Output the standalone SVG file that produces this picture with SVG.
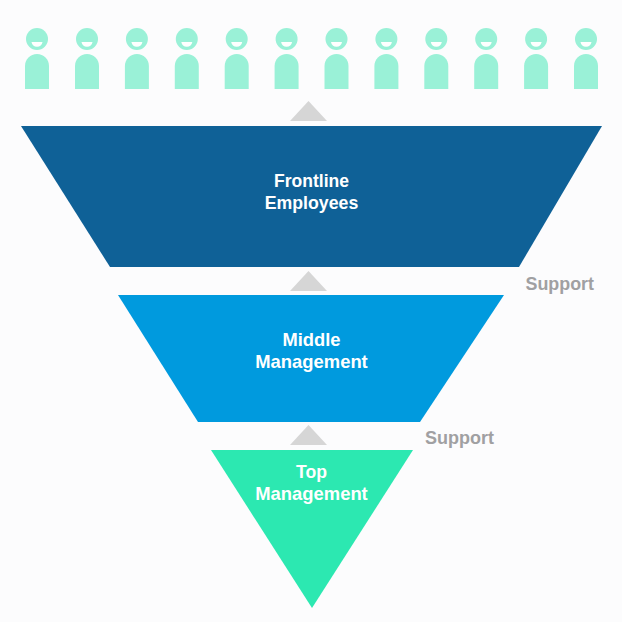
<svg xmlns="http://www.w3.org/2000/svg" xmlns:xlink="http://www.w3.org/1999/xlink" width="622" height="622" viewBox="0 0 622 622">
<style>
.t{font-family:"Liberation Sans",Arial,sans-serif;font-size:17.800px;font-weight:700;fill:#fff;text-anchor:middle}
.s{font-family:"Liberation Sans",Arial,sans-serif;font-size:17.800px;font-weight:700;fill:#a0a0a2}
.a{fill:#d6d6d6}
.p{fill:#9af1d7}
</style>
<defs>
<g id="person">
<circle class="p" cx="37" cy="39" r="11"/>
<path d="M31.500 42H42.500C42 45 40 46.800 37 46.800C34 46.800 32 45 31.500 42Z" fill="#fff"/>
<path class="p" d="M25 89V66C25 59.400 30.400 54 37 54C43.600 54 49 59.400 49 66V89Z"/>
</g>
</defs>
<rect width="622" height="622" fill="#fcfcfd"/>
<g id="people">
<use xlink:href="#person" href="#person" x="0"/>
<use xlink:href="#person" href="#person" x="50"/>
<use xlink:href="#person" href="#person" x="99.900"/>
<use xlink:href="#person" href="#person" x="149.800"/>
<use xlink:href="#person" href="#person" x="199.700"/>
<use xlink:href="#person" href="#person" x="249.600"/>
<use xlink:href="#person" href="#person" x="299.500"/>
<use xlink:href="#person" href="#person" x="349.400"/>
<use xlink:href="#person" href="#person" x="399.300"/>
<use xlink:href="#person" href="#person" x="449.200"/>
<use xlink:href="#person" href="#person" x="499.100"/>
<use xlink:href="#person" href="#person" x="549"/>
</g>
<g id="connectors">
<polygon class="a" points="290,121 308.500,101 327,121"/>
<polygon class="a" points="290,291 308.500,271 327,291"/>
<polygon class="a" points="290,445 308.500,425 327,445"/>
</g>
<g id="frontline">
<polygon points="21,126 602,126 519,267 110,267" fill="#0f6197"/>
<text class="t" x="311.500" y="186.500" textLength="75" lengthAdjust="spacingAndGlyphs">Frontline</text>
<text class="t" x="311.500" y="208.500" textLength="93.500" lengthAdjust="spacingAndGlyphs">Employees</text>
</g>
<g id="middle">
<polygon points="118,295 504,295 420,422 198,422" fill="#009ade"/>
<text class="t" x="311.500" y="345.500" textLength="58" lengthAdjust="spacingAndGlyphs">Middle</text>
<text class="t" x="311.500" y="367.500" textLength="112.500" lengthAdjust="spacingAndGlyphs">Management</text>
</g>
<g id="top">
<polygon points="211,450 413,450 312,608" fill="#2ce8b1"/>
<text class="t" x="311.500" y="477.500" textLength="31" lengthAdjust="spacingAndGlyphs">Top</text>
<text class="t" x="311.500" y="499.500" textLength="112.500" lengthAdjust="spacingAndGlyphs">Management</text>
</g>
<g id="labels">
<text class="s" x="525.500" y="289.500" textLength="68.500" lengthAdjust="spacingAndGlyphs">Support</text>
<text class="s" x="425" y="443.500" textLength="69" lengthAdjust="spacingAndGlyphs">Support</text>
</g>
</svg>
